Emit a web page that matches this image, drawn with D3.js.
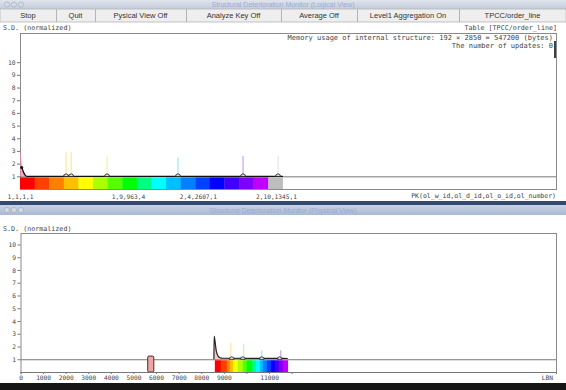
<!DOCTYPE html>
<html>
<head>
<meta charset="utf-8">
<script src="https://cdn.jsdelivr.net/npm/d3@7"></script>
<style>
  body { margin: 0; background: #ffffff; }
  svg { display: block; }
</style>
</head>
<body>
<div id="workspace"></div>
<script>
const svg_width = 566,
      svg_height = 390,
      mono_font = '"DejaVu Sans Mono", monospace',
      ui_font = '"Liberation Sans", Arial, sans-serif',
      text_color = '#444'

// ---- window chrome
const buttons = ['Stop', 'Quit', 'Pysical View Off', 'Analyze Key Off', 'Average Off', 'Level1 Aggregation On', 'TPCC/order_line']
const button_edges = [0, 56, 95, 186, 281, 357, 459, 566]

// ---- logical view (keys along the primary key order)
const logical_key_count = 2850
const logical_band_edges = [0, 78, 155, 233, 311, 388, 466, 544, 621, 699, 776, 854, 932, 1009, 1087, 1165, 1242, 1320]
const logical_unused = [1320, 1398]
const logical_tick_keys = [0, 574, 946, 1361]
const logical_tick_labels = ['1,1,1,1', '1,9,963,4', '2,4,2607,1', '2,10,1345,1']
const logical_head = [[0, 3.1], [4, 2.7], [9, 2.1], [15, 1.6], [23, 1.2], [32, 1.0]]
const logical_sd = [[4, 1.75], [9, 1.7], [18, 1.35], [30, 1.05], [40, 1.0], [1398, 1.0]]
const logical_dots = [[9, 1.7]]
const logical_bumps = [245, 272, 463, 840, 1186, 1372]
const logical_spike_keys = [245, 272, 463, 840, 1186, 1372]
const logical_spike_sd = [2.9, 2.9, 2.6, 2.5, 2.6, 2.6]

// ---- physical view (logical block numbers)
const physical_lbn_max = 23700
const physical_ticks = [0, 1000, 2000, 3000, 4000, 5000, 6000, 7000, 8000, 9000, 10000, 11000, 12000]
const physical_labels = [0, 1000, 2000, 3000, 4000, 5000, 6000, 7000, 8000, 9000, 11000]
const physical_band_edges = [8600, 8860, 9130, 9260, 9400, 9620, 9840, 10010, 10240, 10410, 10590, 10720, 10900, 11080, 11250, 11430, 11610, 11830]
const physical_block = [5630, 5900]
const physical_block_sd = 1.25
const physical_sd = [[8560, 1.0], [8570, 2.8], [8610, 2.4], [8660, 1.7], [8730, 1.3], [8830, 1.12], [8950, 1.08], [11830, 1.06]]
const physical_bumps = [9350, 9840, 10680, 11470]
const physical_spike_keys = [9310, 9880, 10680, 11520]
const physical_spike_sd = [2.3, 2.2, 1.7, 1.7]

const y_ticks = [1, 2, 3, 4, 5, 6, 7, 8, 9, 10]

// hue per band index: red .. yellow .. green .. cyan .. blue .. purple
const band_hue = d3.scaleLinear().domain([0, 4, 7, 9, 13, 16]).range([0, 60, 120, 180, 240, 285])
function band_color(i) {
  return d3.hsl(band_hue(i), 1, 0.5).toString()
}

function color_at(edges, key) {
  for (let i = 0; i < edges.length - 1; i++) {
    if (key >= edges[i] && key < edges[i + 1]) return band_color(i)
  }
  return '#b8b8b8'
}

function initialize_workspace() {
  return d3.select('#workspace')
    .append('svg')
    .attr('width', svg_width)
    .attr('height', svg_height)
}

function draw_title_bar(svg, y, h, title, grad_id, top_color, bottom_color) {
  const grad = svg.append('defs').append('linearGradient')
    .attr('id', grad_id).attr('x1', 0).attr('y1', 0).attr('x2', 0).attr('y2', 1)
  grad.append('stop').attr('offset', '0%').attr('stop-color', top_color)
  grad.append('stop').attr('offset', '100%').attr('stop-color', bottom_color)

  svg.append('rect')
    .attr('x', 0).attr('y', y).attr('width', svg_width).attr('height', h)
    .style('fill', `url(#${grad_id})`)

  for (let i = 0; i < 3; i++) {
    svg.append('circle')
      .attr('cx', 7 + i * 7).attr('cy', y + h / 2).attr('r', 2.6)
      .style('fill', '#d4dae4').style('stroke', '#9aa6ba').style('stroke-width', 0.6)
  }

  svg.append('text')
    .attr('x', svg_width / 2).attr('y', y + h / 2 + 2.5)
    .attr('text-anchor', 'middle')
    .style('font-family', ui_font).style('font-size', '7px')
    .style('fill', '#98acd8')
    .text(title)
}

function draw_buttons(svg, y, h) {
  svg.append('rect')
    .attr('x', 0).attr('y', y).attr('width', svg_width).attr('height', h)
    .style('fill', '#eeeeee').style('stroke', '#b4b4b4').style('stroke-width', 0.8)

  buttons.forEach((label, i) => {
    const x0 = button_edges[i], x1 = button_edges[i + 1]
    if (i > 0) {
      svg.append('line')
        .attr('x1', x0 + 0.5).attr('x2', x0 + 0.5).attr('y1', y).attr('y2', y + h)
        .style('stroke', '#b4b4b4')
    }
    svg.append('text')
      .attr('x', (x0 + x1) / 2).attr('y', y + h / 2 + 2.7)
      .attr('text-anchor', 'middle')
      .style('font-family', ui_font).style('font-size', '7.5px')
      .style('fill', '#333')
      .text(label)
  })
}

function mono_text(svg, x, y, anchor, str, size = '6.7px') {
  return svg.append('text')
    .attr('x', x).attr('y', y)
    .attr('text-anchor', anchor)
    .style('font-family', mono_font).style('font-size', size)
    .style('fill', text_color)
    .text(str)
}

function draw_frame(svg, x, y) {
  svg.append('rect')
    .attr('x', x.range()[0] + 0.5).attr('y', y.range()[1] + 0.5)
    .attr('width', x.range()[1] - x.range()[0])
    .attr('height', y.range()[0] - y.range()[1])
    .style('fill', 'white').style('stroke', '#8a8a8a').style('stroke-width', 1)

  const y_axis = svg.append('g')
    .attr('transform', `translate(${x.range()[0]},0)`)
    .call(d3.axisLeft(y).tickValues(y_ticks).tickSize(3).tickPadding(1.5))
  y_axis.select('.domain').remove()
  y_axis.selectAll('line').style('stroke', '#777')
  y_axis.selectAll('text')
    .style('font-family', mono_font).style('font-size', '6.3px').style('fill', text_color)

  svg.append('line')
    .attr('x1', x.range()[0]).attr('x2', x.range()[1])
    .attr('y1', y(1) + 0.5).attr('y2', y(1) + 0.5)
    .style('stroke', '#777').style('stroke-width', 1)
}

function draw_bands(svg, x, y, edges) {
  svg.append('g').selectAll('rect')
    .data(d3.range(edges.length - 1))
    .join('rect')
    .attr('x', i => x(edges[i]))
    .attr('width', i => x(edges[i + 1]) - x(edges[i]) + 0.3)
    .attr('y', y(1) + 1)
    .attr('height', y(0) - y(1) - 1)
    .style('fill', i => band_color(i))
}

function draw_spikes(svg, x, y, keys, values, edges) {
  svg.append('g').selectAll('line')
    .data(keys)
    .join('line')
    .attr('x1', d => x(d)).attr('x2', d => x(d))
    .attr('y1', y(1)).attr('y2', (d, i) => y(values[i]))
    .style('stroke', d => color_at(edges, d))
    .style('stroke-width', 1)
    .style('opacity', 0.45)
}

function draw_bumps(svg, x, y, keys) {
  const arc = d3.arc().innerRadius(0).outerRadius(2.4).startAngle(-Math.PI / 2).endAngle(Math.PI / 2)
  svg.append('g').selectAll('path')
    .data(keys)
    .join('path')
    .attr('transform', d => `translate(${x(d)},${y(1)})`)
    .attr('d', arc)
    .style('fill', 'white').style('stroke', '#222').style('stroke-width', 0.9)
}

function draw_logical_view(svg) {
  const x = d3.scaleLinear().domain([0, logical_key_count]).range([20, 556])
  const y = d3.scaleLinear().domain([0, 12.3]).range([189, 33])

  mono_text(svg, 3, 30, 'start', 'S.D. (normalized)')
  mono_text(svg, 557, 30, 'end', 'Table [TPCC/order_line]')

  draw_frame(svg, x, y)

  mono_text(svg, 553, 40, 'end', 'Memory usage of internal structure: 192 \u00d7 2850 = 547200 (bytes)', '7px')
  mono_text(svg, 553, 48, 'end', 'The number of updates: 0', '7px')
  svg.append('line')
    .attr('x1', 555).attr('x2', 555).attr('y1', 41).attr('y2', 58)
    .style('stroke', '#111').style('stroke-width', 1.6)

  draw_bands(svg, x, y, logical_band_edges)
  svg.append('rect')
    .attr('x', x(logical_unused[0])).attr('width', x(logical_unused[1]) - x(logical_unused[0]))
    .attr('y', y(1) + 1).attr('height', y(0) - y(1) - 1)
    .style('fill', '#bdbdbd')

  draw_spikes(svg, x, y, logical_spike_keys, logical_spike_sd, logical_band_edges)

  svg.append('path')
    .datum(logical_head)
    .attr('d', d3.area().x(d => x(d[0])).y0(y(1)).y1(d => y(d[1])).curve(d3.curveMonotoneX))
    .style('fill', '#f08aa0').style('opacity', 0.75)

  svg.append('path')
    .datum(logical_sd)
    .attr('d', d3.line().x(d => x(d[0])).y(d => y(d[1])).curve(d3.curveMonotoneX))
    .style('fill', 'none').style('stroke', '#111').style('stroke-width', 1.3)

  svg.selectAll('.logical-dot')
    .data(logical_dots)
    .join('circle')
    .attr('cx', d => x(d[0])).attr('cy', d => y(d[1])).attr('r', 1.5)
    .style('fill', '#111')

  draw_bumps(svg, x, y, logical_bumps)

  const x_axis = svg.append('g')
    .attr('transform', `translate(0,${y(0)})`)
    .call(d3.axisBottom(x).tickValues(logical_tick_keys).tickSize(0).tickPadding(6)
      .tickFormat((d, i) => logical_tick_labels[i]))
  x_axis.select('.domain').remove()
  x_axis.selectAll('text')
    .style('font-family', mono_font).style('font-size', '6.2px').style('fill', text_color)

  mono_text(svg, 556, 198, 'end', 'PK(ol_w_id,ol_d_id,ol_o_id,ol_number)', '6.5px')
}

function draw_physical_view(svg) {
  const x = d3.scaleLinear().domain([0, physical_lbn_max]).range([20.5, 556])
  const y = d3.scaleLinear().domain([0, 10.9]).range([372, 233])

  mono_text(svg, 3, 231, 'start', 'S.D. (normalized)')

  draw_frame(svg, x, y)

  draw_bands(svg, x, y, physical_band_edges)
  draw_spikes(svg, x, y, physical_spike_keys, physical_spike_sd, physical_band_edges)

  svg.append('rect')
    .attr('x', x(physical_block[0])).attr('width', x(physical_block[1]) - x(physical_block[0]))
    .attr('y', y(physical_block_sd)).attr('height', y(0) - y(physical_block_sd))
    .attr('rx', 1.2)
    .style('fill', '#e9a7a7').style('stroke', '#5a2626').style('stroke-width', 1)

  svg.append('path')
    .datum(physical_sd)
    .attr('d', d3.area().x(d => x(d[0])).y0(y(1)).y1(d => y(d[1])).curve(d3.curveMonotoneX))
    .style('fill', '#f0a0a8').style('opacity', 0.6)

  svg.append('path')
    .datum(physical_sd)
    .attr('d', d3.line().x(d => x(d[0])).y(d => y(d[1])).curve(d3.curveMonotoneX))
    .style('fill', 'none').style('stroke', '#222').style('stroke-width', 1.2)

  draw_bumps(svg, x, y, physical_bumps)

  const x_axis = svg.append('g')
    .attr('transform', `translate(0,${y(0)})`)
    .call(d3.axisBottom(x).tickValues(physical_ticks).tickSize(2).tickPadding(2)
      .tickFormat(d => physical_labels.includes(d) ? d : ''))
  x_axis.select('.domain').style('stroke', '#777')
  x_axis.selectAll('line').style('stroke', '#777')
  x_axis.selectAll('text')
    .style('font-family', mono_font).style('font-size', '6.2px').style('fill', text_color)

  mono_text(svg, 553, 380, 'end', 'LBN', '6.2px')
}

function main() {
  const svg = initialize_workspace()

  svg.append('rect').attr('width', svg_width).attr('height', svg_height).style('fill', 'white')

  // upper window
  draw_title_bar(svg, 0, 9, 'Structural Deterioration Monitor (Logical View)', 'title_top', '#dfe4ec', '#c3ccdb')
  draw_buttons(svg, 9, 13)
  draw_logical_view(svg)

  // gap between windows
  svg.append('rect').attr('x', 0).attr('y', 201).attr('width', svg_width).attr('height', 4)
    .style('fill', '#34496f')
  draw_title_bar(svg, 205, 10, 'Structural Deterioration Monitor (Physical View)', 'title_bottom', '#c9d3e4', '#a9b8d2')

  draw_physical_view(svg)

  svg.append('rect').attr('x', 0).attr('y', 383).attr('width', svg_width).attr('height', 7)
    .style('fill', '#161616')
}

main()
</script>
</body>
</html>
